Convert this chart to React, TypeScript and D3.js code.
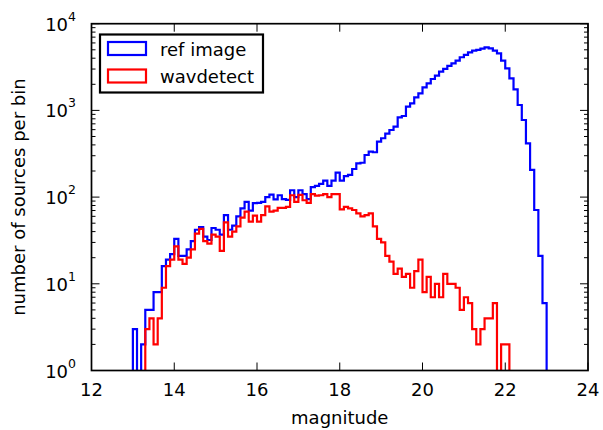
import React from 'react';
import * as d3 from 'd3';

// ---- data ----
const binStart = 13.0;
const binWidth = 0.1;
const seriesNames = ['ref image', 'wavdetect'];
const seriesColors = ['#0000ff', '#ff0000'];

const refImageCounts = [
  3, 0, 2, 5, 5, 8, 8, 16, 19, 22,
  33, 21, 21, 25, 31, 42, 45, 35, 32, 44,
  42, 37, 62, 42, 47, 60, 74, 88, 70, 85,
  86, 88, 100, 107, 94, 105, 95, 93, 120, 100,
  120, 108, 95, 130, 135, 142, 155, 135, 155, 192,
  155, 175, 180, 211, 245, 249, 306, 334, 329, 437,
  477, 540, 594, 649, 831, 862, 1104, 1206, 1414, 1574,
  1846, 2053, 2303, 2518, 2800, 3007, 3258, 3494, 3752, 4100,
  4364, 4680, 4890, 4977, 5157, 5343, 5204, 4890, 4550, 3749,
  3058, 2344, 1750, 1154, 775, 417, 206, 71, 21, 6,
];

const wavdetectCounts = [
  0, 0, 0, 3, 4, 2, 4, 9, 16, 19,
  27, 19, 17, 20, 25, 38, 43, 31, 29, 37,
  35, 24, 51, 35, 40, 46, 58, 68, 52, 61,
  52, 62, 78, 68, 70, 75, 75, 77, 105, 88,
  106, 92, 86, 108, 104, 105, 108, 100, 108, 108,
  72, 77, 74, 71, 65, 60, 62, 65, 46, 33,
  30, 21, 18, 13, 15, 12, 13, 9, 14, 19,
  8, 12, 7, 10, 7, 13, 10, 10, 9, 5,
  7, 6, 3, 2, 3, 4, 4, 6, 0, 2,
  2, 0, 0, 0, 0, 0, 0, 0, 0, 0,
];

const xTickValues = [12, 14, 16, 18, 20, 22, 24];
const yTickExponents = [0, 1, 2, 3, 4];
const xLabel = 'magnitude';
const yLabel = 'number of sources per bin';

// ---- layout ----
const W = 603;
const H = 430;
const plot = { left: 91.5, right: 588, top: 23.7, bottom: 370.5 };
const FONT = '"DejaVu Sans", sans-serif';
const FS = 18;

const x = d3.scaleLinear().domain([12, 24]).range([plot.left, plot.right]);
const y = d3.scaleLog().domain([1, 1e4]).range([plot.bottom, plot.top]);

function stepPath(counts: number[]): string {
  const yv = (c: number) => (c > 0 ? y(c) : plot.bottom + 30);
  const pts: [number, number][] = [];
  const e = (i: number) => x(binStart + i * binWidth);
  pts.push([e(0), plot.bottom + 30]);
  counts.forEach((c, i) => {
    pts.push([e(i), yv(c)]);
    pts.push([e(i + 1), yv(c)]);
  });
  pts.push([e(counts.length), plot.bottom + 30]);
  return d3.line()(pts) as string;
}

export default function App() {
  const series = [refImageCounts, wavdetectCounts];
  const minorTicks: number[] = [];
  for (let k = 0; k < 4; k++) for (let m = 2; m <= 9; m++) minorTicks.push(m * Math.pow(10, k));

  return (
    <svg width={W} height={H} style={{ position: 'absolute', left: 0, top: 0, background: '#fff' }}
      fontFamily={FONT}>
      <defs>
        <clipPath id="plotClip">
          <rect x={plot.left} y={plot.top} width={plot.right - plot.left} height={plot.bottom - plot.top} />
        </clipPath>
      </defs>
      <rect x={0} y={0} width={W} height={H} fill="#fff" />
      <g clipPath="url(#plotClip)">
        {series.map((s, i) => (
          <path key={i} d={stepPath(s)} fill="none" stroke={seriesColors[i]} strokeWidth={2.2}
            strokeLinejoin="miter" />
        ))}
      </g>
      {/* ticks */}
      <g stroke="#000" strokeWidth={1}>
        {xTickValues.map((t) => (
          <g key={'xt' + t}>
            <line x1={x(t)} x2={x(t)} y1={plot.bottom} y2={plot.bottom - 8} />
            <line x1={x(t)} x2={x(t)} y1={plot.top} y2={plot.top + 8} />
          </g>
        ))}
        {yTickExponents.map((k) => {
          const yy = y(Math.pow(10, k));
          return (
            <g key={'yt' + k}>
              <line x1={plot.left} x2={plot.left + 8} y1={yy} y2={yy} />
              <line x1={plot.right} x2={plot.right - 8} y1={yy} y2={yy} />
            </g>
          );
        })}
        {minorTicks.map((v) => {
          const yy = y(v);
          return (
            <g key={'ym' + v}>
              <line x1={plot.left} x2={plot.left + 4} y1={yy} y2={yy} />
              <line x1={plot.right} x2={plot.right - 4} y1={yy} y2={yy} />
            </g>
          );
        })}
      </g>
      {/* frame */}
      <rect x={plot.left} y={plot.top} width={plot.right - plot.left} height={plot.bottom - plot.top}
        fill="none" stroke="#000" strokeWidth={1.7} />
      {/* x tick labels */}
      {xTickValues.map((t) => (
        <text key={'xl' + t} x={x(t)} y={396} textAnchor="middle" fontSize={FS} fill="#000">{t}</text>
      ))}
      {/* y tick labels */}
      {yTickExponents.map((k) => {
        const yy = y(Math.pow(10, k));
        return (
          <text key={'yl' + k} x={76} y={yy + 7} textAnchor="end" fontSize={FS} fill="#000">
            10<tspan fontSize={12.5} dy={-10}>{k}</tspan>
          </text>
        );
      })}
      {/* axis labels */}
      <text x={(plot.left + plot.right) / 2} y={424} textAnchor="middle" fontSize={FS} fill="#000">{xLabel}</text>
      <text transform={`translate(25,${(plot.top + plot.bottom) / 2}) rotate(-90)`} textAnchor="middle"
        fontSize={FS} fill="#000">{yLabel}</text>
      {/* legend */}
      <g>
        <rect x={100} y={34.5} width={163} height={58} fill="#fff" stroke="#000" strokeWidth={2.2} />
        {seriesNames.map((n, i) => (
          <g key={n}>
            <rect x={108} y={42 + i * 27.5} width={38} height={13} fill="none" stroke={seriesColors[i]} strokeWidth={2.2} />
            <text x={160} y={55.5 + i * 27.5} fontSize={FS} fill="#000">{n}</text>
          </g>
        ))}
      </g>
    </svg>
  );
}
